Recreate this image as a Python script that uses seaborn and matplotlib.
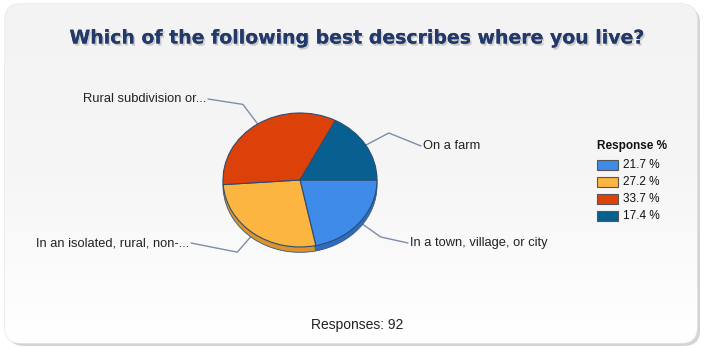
import numpy as np
import matplotlib
matplotlib.use("Agg")
import matplotlib.pyplot as plt
import seaborn as sns
from matplotlib.patches import FancyBboxPatch
from matplotlib.lines import Line2D
import matplotlib.patheffects as pe

sns.set_theme(style="white")
plt.rcParams["font.family"] = ["Liberation Sans", "DejaVu Sans"]

# Survey results
title = "Which of the following best describes where you live?"
categories = ["In a town, village, or city", "In an isolated, rural, non-...",
              "Rural subdivision or...", "On a farm"]
percents = [21.7, 27.2, 33.7, 17.4]
responses = 92
legend_title = "Response %"

colors = ["#3f8bea", "#fbb540", "#dd410a", "#07608f"]
side_colors = ["#2f6cc0", "#d9952c", "#b8350a", "#054a70"]

W, H = 705, 349
fig = plt.figure(figsize=(W / 100, H / 100), dpi=100)
fig.patch.set_facecolor("white")

# Rounded panel with a soft vertical gradient
bg = fig.add_axes([0, 0, 1, 1])
bg.set_xlim(0, W)
bg.set_ylim(H, 0)
bg.axis("off")
shadow = FancyBboxPatch((8, 7), 692, 339, boxstyle="round,pad=0,rounding_size=16",
                        facecolor="#d4d4d4", edgecolor="none", zorder=0)
bg.add_patch(shadow)
panel = FancyBboxPatch((5, 4), 692, 339, boxstyle="round,pad=0,rounding_size=16",
                       facecolor="white", edgecolor="#e6e6e6", linewidth=1.0, zorder=1)
bg.add_patch(panel)
grad = np.linspace(0, 1, 256).reshape(-1, 1)
grad_img = bg.imshow(grad, extent=(5, 697, 343, 4), cmap=matplotlib.colors.LinearSegmentedColormap.from_list(
    "g", ["#f3f3f3", "#f6f6f6", "#ffffff"]), aspect="auto", zorder=2)
grad_img.set_clip_path(panel)

fig.text(357 / W, 1 - 38 / H, title, ha="center", va="center", fontsize=13.6,
         fontweight="bold", color="#22396a", family=["DejaVu Sans"],
         path_effects=[pe.withSimplePatchShadow(offset=(1.2, -1.5), shadow_rgbFace="#b0b0b0", alpha=0.6),
                       pe.Normal()])

# Pie axes: slightly flattened ellipse
cx, cy, rx, ry = 300, 180, 77, 67
ax = fig.add_axes([(cx - rx) / W, 1 - (cy + ry) / H, 2 * rx / W, 2 * ry / H])
ax.set_zorder(3)
ax.patch.set_alpha(0)

# Side of the disc
ax.pie(percents, colors=side_colors, startangle=0, counterclock=False,
       center=(0, -0.08), radius=1.0,
       wedgeprops=dict(edgecolor="#3a5577", linewidth=0.6))
wedges, _ = ax.pie(percents, colors=colors, startangle=0, counterclock=False,
                   wedgeprops=dict(edgecolor="#2d4c70", linewidth=0.8))
ax.set_aspect("auto")
ax.set_xlim(-1, 1)
ax.set_ylim(-1.08, 1)
ax.set_position([(cx - rx) / W, 1 - (cy + ry + 0.08 * ry) / H, 2 * rx / W, (2.08 * ry) / H])
ax.axis("off")

# Leader lines and labels
label_pos = {
    "In a town, village, or city": (408, 243, "left"),
    "In an isolated, rural, non-...": (191, 243, "right"),
    "Rural subdivision or...": (208, 99, "right"),
    "On a farm": (421, 146, "left"),
}
for w, cat in zip(wedges, categories):
    mid = np.deg2rad((w.theta1 + w.theta2) / 2)
    ex, ey = cx + rx * np.cos(mid), cy - ry * np.sin(mid)
    bx, by = cx + 1.35 * rx * np.cos(mid), cy - 1.35 * ry * np.sin(mid)
    lx, ly, ha = label_pos[cat]
    bg.add_line(Line2D([ex, bx, lx], [ey, by, ly], color="#7d8ea8", linewidth=1.0, zorder=4))
    tx = lx + (2 if ha == "left" else -2)
    fig.text(tx / W, 1 - ly / H, cat, ha=ha, va="center", fontsize=9.3, color="#222222")

# Legend
fig.text(597 / W, 1 - 146 / H, legend_title, ha="left", va="center", fontsize=8.5,
         fontweight="bold", color="#111111")
for i, (p, c) in enumerate(zip(percents, colors)):
    y = 165 + i * 17
    bg.add_patch(plt.Rectangle((597, y - 5), 21, 10, facecolor=c, edgecolor="#555555",
                               linewidth=0.8, zorder=4))
    fig.text(623 / W, 1 - y / H, f"{p:.1f} %", ha="left", va="center", fontsize=8.5,
             color="#111111")

fig.text(357 / W, 1 - 325 / H, f"Responses: {responses}", ha="center", va="center",
         fontsize=10, color="#222222")

fig.savefig("out.png", dpi=100)
